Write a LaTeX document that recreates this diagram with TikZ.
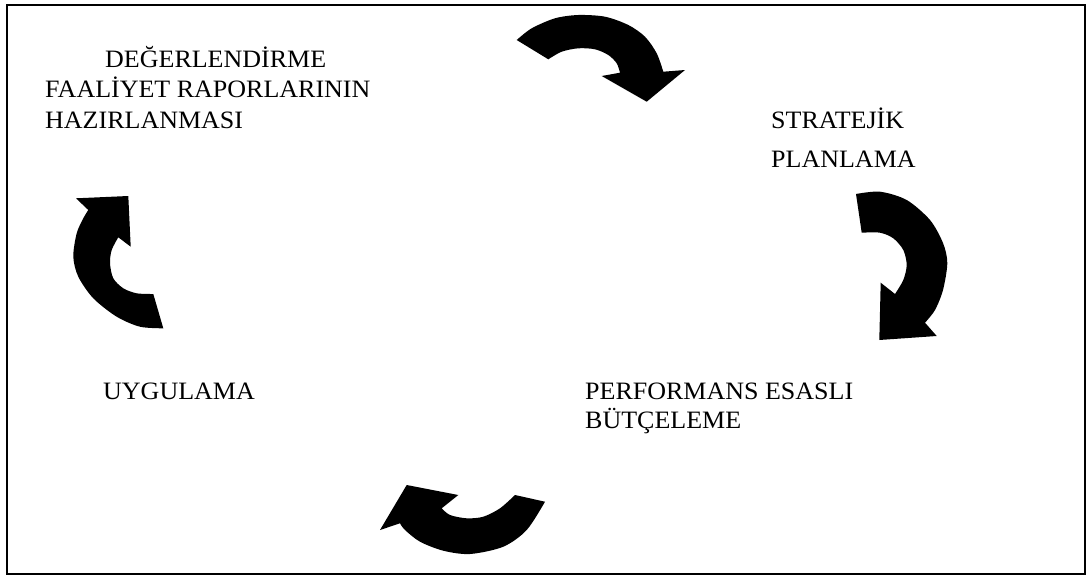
\documentclass[tikz,border=0pt]{standalone}
\usepackage{fontspec}
\setmainfont{Liberation Serif}[FakeStretch=1.04]
\usepackage{tikz}
\usetikzlibrary{positioning}
\tikzset{
  stagetext/.style={inner sep=0pt, anchor=base west, align=left},
  cyclearrow/.style={fill=black, draw=none}
}

\begin{document}
\begin{tikzpicture}[x=1pt, y=-1pt]
            \useasboundingbox (0,0) rectangle (1089,576);
            % Draw the frame
            \draw[line width=2pt] (7,5) rectangle (1085,574);
            % Draw the stage texts (anchored at the baseline of the last line)
            \node[stagetext, font={\fontsize{25}{30.5}\selectfont}] (eval) at (45,128) {\hspace*{60pt}DEĞERLENDİRME\\FAALİYET RAPORLARININ\\HAZIRLANMASI};
            \node[stagetext, font={\fontsize{25}{39}\selectfont}] (plan) at (771,167) {STRATEJİK\\PLANLAMA};
            \node[stagetext, font={\fontsize{25}{29}\selectfont}] (budget) at (585,428) {PERFORMANS ESASLI\\BÜTÇELEME};
            \node[stagetext, font={\fontsize{25}{29}\selectfont}] (apply) at (103,399) {UYGULAMA};
            % Draw the curved arrows
            \fill[cyclearrow] plot[smooth] coordinates {(516.7,40) (531.7,28.3) (555,18.3) (578.3,15) (605,16.7) (628.3,25) (645,36.7) (656.7,53.3) (663.3,71.7)}
              -- (685,70) -- (646.7,101.7) -- (601.7,76)
              -- plot[smooth] coordinates {(620,72.7) (616.7,63.3) (608.3,55) (595,49.3) (578.3,48.3) (561.7,51.7) (548.3,59.3)} -- cycle;
            \fill[cyclearrow] plot[smooth] coordinates {(856,194) (880,191.7) (906.7,200) (930,220) (943,243) (947.3,263) (943,290) (935,310) (925,322.7)}
              -- (936.7,336) -- (879.3,340) -- (880.7,282.7)
              -- plot[smooth] coordinates {(895,294) (903.3,280) (906.7,265) (903.3,250) (893.3,238.3) (880,232.7) (861.7,232.7)} -- cycle;
            \fill[cyclearrow] plot[smooth] coordinates {(545,501.7) (526.7,530) (503.3,546.7) (470,554) (443.3,550.7) (420,541.7) (405,530) (400,523.3)}
              -- (380,530) -- (406.7,485) -- (458.3,495)
              -- plot[smooth] coordinates {(441.7,508.3) (450,515) (466.7,518.3) (483.3,516.7) (500,508.3) (515,495)} -- cycle;
            \fill[cyclearrow] plot[smooth] coordinates {(163.3,328.3) (140,326.7) (116.7,316.7) (93.3,298.3) (78.3,276.7) (73.3,256.7) (76.7,233.3) (83.3,218.3) (88.3,210)}
              -- (76,198.3) -- (128.3,196) -- (130.7,246.7)
              -- plot[smooth] coordinates {(118.3,237.3) (111.7,250) (110,263.3) (113.3,278.3) (123.3,288.3) (136.7,293.3) (153.3,294)} -- cycle;
        \end{tikzpicture}
\end{document}
